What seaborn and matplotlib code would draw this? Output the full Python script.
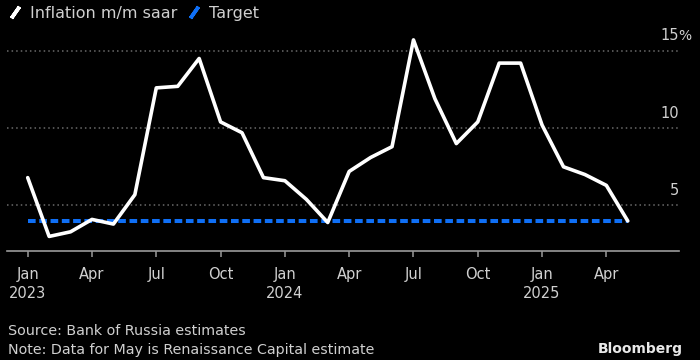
import numpy as np
import pandas as pd
import matplotlib
matplotlib.use("Agg")
import matplotlib.pyplot as plt
from matplotlib.lines import Line2D
from matplotlib.transforms import offset_copy
import seaborn as sns

# Data (monthly, Jan 2023 - May 2025)
inflation = [6.8, 3.0, 3.3, 4.1, 3.8, 5.7, 12.6, 12.7, 14.5, 10.4, 9.7, 6.8,
             6.6, 5.4, 3.9, 7.2, 8.1, 8.8, 15.7, 11.9, 9.0, 10.4, 14.2, 14.2,
             10.2, 7.5, 7.0, 6.3, 4.0]
target = [4.0] * len(inflation)
tick_pos = [0, 3, 6, 9, 12, 15, 18, 21, 24, 27]
tick_labels = ["Jan\n2023", "Apr", "Jul", "Oct", "Jan\n2024", "Apr", "Jul",
               "Oct", "Jan\n2025", "Apr"]
y_ticks = [5, 10, 15]
y_labels = ["5", "10", "15"]

df = pd.DataFrame({"month": np.arange(len(inflation)),
                   "inflation": inflation, "target": target})

sns.set_style("dark")
plt.rcParams['font.family'] = ['DejaVu Sans']

BLUE = '#0f6ff5'
TXT = '#d0d0d0'

fig = plt.figure(figsize=(7, 3.6), dpi=100, facecolor='black')
ax = fig.add_axes([0.01, 0.3028, 0.96, 0.6139], facecolor='black')

sns.lineplot(data=df, x='month', y='target', ax=ax, color=BLUE, lw=2.9,
             dashes=False)
ax.lines[-1].set_linestyle((0, (1.9, 0.9)))
sns.lineplot(data=df, x='month', y='inflation', ax=ax, color='white', lw=2.6)

ax.set_xlim(-0.966, 30.39)
ax.set_ylim(2.06, 16.34)

# grid
ax.set_yticks(y_ticks)
ax.tick_params(axis='y', length=0, labelleft=False, labelright=False)
ax.grid(axis='y', color='#6a6a6a', linestyle=(0, (1, 2)), lw=1.1)
ax.grid(axis='x', visible=False)
for sp in ['top', 'left', 'right']:
    ax.spines[sp].set_visible(False)
ax.spines['bottom'].set_color('#9a9a9a')
ax.spines['bottom'].set_linewidth(1.2)

ax.set_xticks(tick_pos)
ax.set_xticklabels(tick_labels, fontsize=10.5, color=TXT, linespacing=1.3)
ax.tick_params(axis='x', length=4.5, width=1.1, color='#9a9a9a', pad=7,
               bottom=True)
for lab in ax.get_xticklabels():
    lab.set_horizontalalignment('center')
ax.set_xlabel('')
ax.set_ylabel('')

# y labels sit above the gridlines on the right
tr = offset_copy(ax.get_yaxis_transform(), fig=fig, x=0, y=7.5, units='points')
for v, s in zip(y_ticks, y_labels):
    ax.text(1.0, v, s, transform=tr, ha='right', va='baseline',
            fontsize=10.5, color=TXT)
tr_pct = offset_copy(ax.get_yaxis_transform(), fig=fig, x=-0.5, y=7.5,
                     units='points')
ax.text(1.0, y_ticks[-1], '%', transform=tr_pct, ha='left', va='baseline',
        fontsize=10, color=TXT)

# legend with slanted markers
handles = [Line2D([], [], color='white', lw=0, marker=(2, 2, -35),
                  markersize=10, markeredgewidth=2.6),
           Line2D([], [], color=BLUE, lw=0, marker=(2, 2, -35),
                  markersize=10, markeredgewidth=2.6)]
leg = fig.legend(handles, ['Inflation m/m saar', 'Target'], loc='upper left',
                 bbox_to_anchor=(0.003, 1.0), ncol=2, frameon=False,
                 fontsize=11.5, handlelength=0.9, handletextpad=0.5,
                 columnspacing=0.6, borderaxespad=0.1, borderpad=0.25)
for t in leg.get_texts():
    t.set_color(TXT)

fig.text(0.011, 0.08, 'Source: Bank of Russia estimates', fontsize=10.3,
         color=TXT, va='center')
fig.text(0.011, 0.028, 'Note: Data for May is Renaissance Capital estimate',
         fontsize=10.3, color=TXT, va='center')
fig.text(0.976, 0.03, 'Bloomberg', fontsize=10, fontweight='bold',
         color='#e8e8e8', ha='right', va='center')

fig.savefig('out.png', dpi=100, facecolor='black')
